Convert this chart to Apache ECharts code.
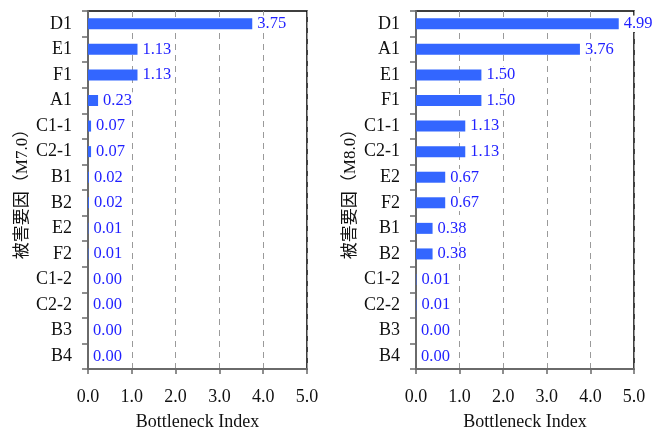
<!DOCTYPE html>
<html>
<head>
<meta charset="utf-8">
<script src="https://cdn.jsdelivr.net/npm/echarts@6/dist/echarts.min.js"></script>
<style>html,body{margin:0;padding:0;background:#fff}#c{width:655px;height:428px}</style>
</head>
<body>
<div id="c"></div>
<script>
const m7Categories = ['D1','E1','F1','A1','C1-1','C2-1','B1','B2','E2','F2','C1-2','C2-2','B3','B4'];
const m7Values = [3.75,1.13,1.13,0.23,0.07,0.07,0.02,0.02,0.01,0.01,0.00,0.00,0.00,0.00];
const m7Labels = ['3.75','1.13','1.13','0.23','0.07','0.07','0.02','0.02','0.01','0.01','0.00','0.00','0.00','0.00'];

const m8Categories = ['D1','A1','E1','F1','C1-1','C2-1','E2','F2','B1','B2','C1-2','C2-2','B3','B4'];
const m8Values = [4.65,3.76,1.50,1.50,1.13,1.13,0.67,0.67,0.38,0.38,0.01,0.01,0.00,0.00];
const m8Labels = ['4.99','3.76','1.50','1.50','1.13','1.13','0.67','0.67','0.38','0.38','0.01','0.01','0.00','0.00'];

const xTicks = [0,1,2,3,4,5];
const yNames = ['被害要因（M7.0）','被害要因（M8.0）'];
const xName = 'Bottleneck Index';

const FONT = "'Liberation Serif','Times New Roman','Noto Sans CJK JP',serif";
const BAR = '#3366ff';
const LABEL = '#1f1fff';

function xAxis(gi){
  return {
    gridIndex: gi, type: 'value', min: xTicks[0], max: xTicks[xTicks.length-1], interval: 1,
    name: xName, nameLocation: 'middle', nameGap: 44,
    nameTextStyle: {fontFamily: FONT, fontSize: 18, color: '#111'},
    axisLine: {show: true, lineStyle: {color: '#6a6a6a', width: 2}},
    axisTick: {show: true, length: 5, lineStyle: {color: '#6a6a6a', width: 1.5}},
    axisLabel: {fontFamily: FONT, fontSize: 18, color: '#111', margin: 19, formatter: v => v.toFixed(1)},
    splitLine: {show: true, lineStyle: {color: '#9a9a9a', type: [6,5], width: 1}}
  };
}
function yAxis(gi, cats, nm){
  return {
    gridIndex: gi, type: 'category', data: cats, inverse: true,
    name: nm, nameLocation: 'middle', nameGap: 57, nameRotate: 90,
    nameTextStyle: {fontFamily: FONT, fontSize: 17, color: '#111'},
    axisLine: {show: true, lineStyle: {color: '#6a6a6a', width: 2}},
    axisTick: {show: true, length: 6, lineStyle: {color: '#6a6a6a', width: 1.5}},
    axisLabel: {fontFamily: FONT, fontSize: 18, color: '#111', margin: 16},
    splitLine: {show: false}
  };
}
function series(gi, vals, labels){
  return {
    type: 'bar', xAxisIndex: gi, yAxisIndex: gi, data: vals, barWidth: 11, z: 5,
    itemStyle: {color: BAR},
    label: {show: true, position: 'right', distance: 4, fontFamily: FONT, fontSize: 16.5, color: LABEL,
      backgroundColor: '#fff', padding: [0, 1, 0, 1],
      formatter: p => labels[p.dataIndex]},
    animation: false
  };
}
const chart = echarts.init(document.getElementById('c'), null, {renderer: 'canvas'});
chart.setOption({
  animation: false,
  backgroundColor: '#fff',
  grid: [
    {left: 88, top: 11, width: 219, height: 358, show: true, borderColor: '#000', borderWidth: 1.5, backgroundColor: 'transparent', containLabel: false, outerBoundsMode: 'none'},
    {left: 416, top: 11, width: 218, height: 358, show: true, borderColor: '#000', borderWidth: 1.5, backgroundColor: 'transparent', containLabel: false, outerBoundsMode: 'none'}
  ],
  xAxis: [xAxis(0), xAxis(1)],
  yAxis: [yAxis(0, m7Categories, yNames[0]), yAxis(1, m8Categories, yNames[1])],
  series: [series(0, m7Values, m7Labels), series(1, m8Values, m8Labels)]
});
</script>
</body>
</html>
